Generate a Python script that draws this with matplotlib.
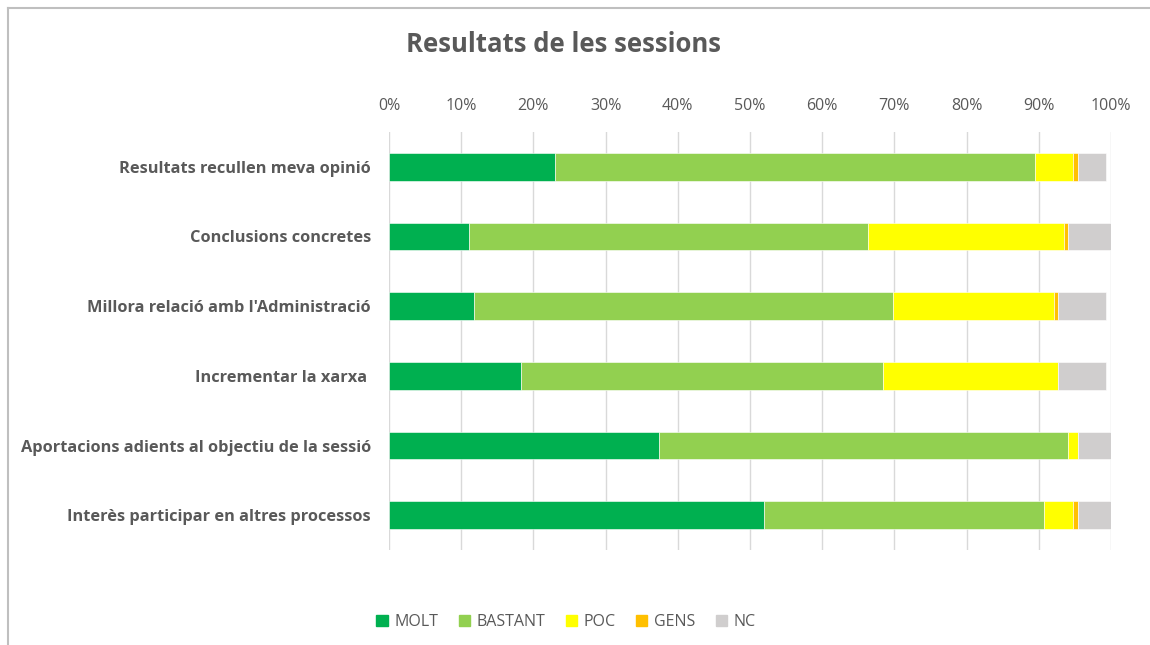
import numpy as np
import matplotlib
matplotlib.use("Agg")
import matplotlib.pyplot as plt
from matplotlib.lines import Line2D

plt.rcParams["font.family"] = ["Open Sans", "DejaVu Sans"]

# data, top to bottom as drawn
categories = [
    "Resultats recullen meva opinió",
    "Conclusions concretes",
    "Millora relació amb l'Administració",
    "Incrementar la xarxa ",
    "Aportacions adients al objectiu de la sessió",
    "Interès participar en altres processos",
]
series_names = ["MOLT", "BASTANT", "POC", "GENS", "NC"]
molt = [0.230, 0.111, 0.118, 0.183, 0.374, 0.520]
bastant = [0.665, 0.553, 0.580, 0.501, 0.567, 0.387]
poc = [0.053, 0.271, 0.223, 0.243, 0.013, 0.041]
gens = [0.006, 0.006, 0.006, 0.000, 0.000, 0.006]
nc = [0.039, 0.059, 0.066, 0.066, 0.046, 0.046]
colors = ["#00B050", "#92D050", "#FFFF00", "#FFC000", "#D0CECE"]

W, H = 1150, 645
fig = plt.figure(figsize=(W / 100, H / 100), dpi=100)
ax = fig.add_axes([389 / W, 1 - 550 / H, (1111 - 389) / W, (550 - 132) / H])

y = np.arange(len(categories))
left = np.zeros(len(categories))
for name, vals, c in zip(series_names, [molt, bastant, poc, gens, nc], colors):
    vals = np.array(vals)
    ax.barh(y, vals, left=left, height=0.4, color=c, label=name,
            edgecolor="white", linewidth=0.4, zorder=3)
    left += vals

ax.set_ylim(len(categories) - 0.5, -0.5)
ax.set_xlim(0, 1)
ax.set_xticks(np.linspace(0, 1, 11))
ax.set_xticklabels([f"{int(round(t * 100))}%" for t in np.linspace(0, 1, 11)])
ax.xaxis.tick_top()
ax.tick_params(axis="x", length=0, pad=13, labelsize=11.5, labelcolor="#595959")
ax.set_yticks(y)
ax.set_yticklabels(categories, fontsize=11.8, fontweight="bold", color="#595959")
ax.tick_params(axis="y", length=0, pad=13)
ax.grid(axis="x", color="#D9D9D9", linewidth=1, zorder=0)
for s in ax.spines.values():
    s.set_visible(False)

fig.text(564 / W, 1 - 45 / H, "Resultats de les sessions", ha="center", va="center",
         fontsize=18.5, fontweight="bold", color="#595959")

handles = [plt.Rectangle((0, 0), 1, 1, color=c) for c in colors]
fig.legend(handles, series_names, loc="center", bbox_to_anchor=(566 / W, 1 - 622 / H),
           ncol=5, frameon=False, fontsize=11.5, handlelength=0.7, handleheight=0.7,
           columnspacing=1.3, handletextpad=0.4, labelcolor="#595959")

# chart border (top and left visible in the crop)
fig.add_artist(Line2D([8 / W, 1], [1 - 8 / H, 1 - 8 / H], color="#BFBFBF", linewidth=1.5))
fig.add_artist(Line2D([8 / W, 8 / W], [0, 1 - 8 / H], color="#BFBFBF", linewidth=1.5))

fig.savefig("out.png", dpi=100, facecolor="white")
